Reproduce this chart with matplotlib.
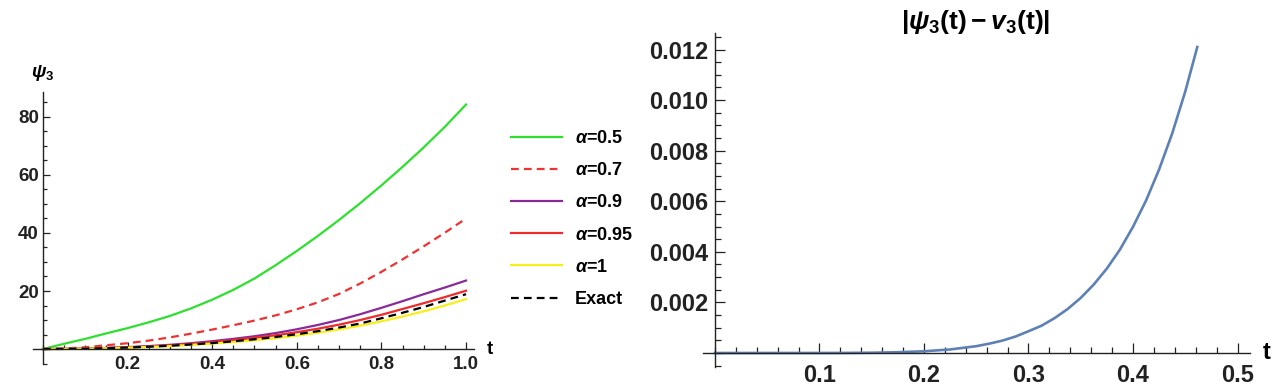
import numpy as np
import matplotlib
matplotlib.use("Agg")
import matplotlib.pyplot as plt
from matplotlib.ticker import MultipleLocator, FixedLocator

plt.rcParams['font.family'] = ['Liberation Sans', 'DejaVu Sans']
plt.rcParams['font.weight'] = 'bold'
plt.rcParams['mathtext.fontset'] = 'custom'
plt.rcParams['mathtext.rm'] = 'Liberation Sans:bold'
plt.rcParams['mathtext.it'] = 'Liberation Sans:bold:italic'
plt.rcParams['mathtext.bf'] = 'Liberation Sans:bold'

# left panel: psi_3 for several alpha values
t_left = [0.0, 0.05, 0.1, 0.15, 0.2, 0.25, 0.3, 0.35, 0.4, 0.45, 0.5,
          0.55, 0.6, 0.65, 0.7, 0.75, 0.8, 0.85, 0.9, 0.95, 1.0]
psi_a05 = [0.0, 1.8, 3.5, 5.4, 7.2, 9.2, 11.4, 14.0, 17.0, 20.4, 24.3,
           28.9, 33.8, 39.0, 44.5, 50.3, 56.4, 62.8, 69.5, 76.6, 84.3]
psi_a07 = [0.0, 0.2, 0.6, 1.3, 2.0, 2.9, 4.0, 5.3, 6.7, 8.2, 9.8,
           11.6, 13.7, 16.1, 19.0, 22.6, 26.6, 30.9, 35.4, 40.1, 45.0]
psi_a09 = [0.0, 0.05, 0.18, 0.38, 0.65, 1.0, 1.45, 2.0, 2.7, 3.5, 4.4,
           5.5, 6.8, 8.3, 10.0, 12.0, 14.2, 16.5, 18.9, 21.2, 23.6]
psi_a095 = [0.0, 0.04, 0.15, 0.33, 0.57, 0.88, 1.27, 1.75, 2.35, 3.05, 3.85,
            4.75, 5.8, 7.0, 8.4, 10.0, 11.8, 13.8, 15.8, 17.9, 20.1]
psi_a1 = [0.0, 0.03, 0.11, 0.25, 0.45, 0.7, 1.0, 1.4, 1.85, 2.4, 3.0,
          3.75, 4.6, 5.6, 6.75, 8.05, 9.55, 11.2, 13.0, 15.0, 17.2]
psi_exact = [0.0, 0.03, 0.12, 0.28, 0.5, 0.78, 1.12, 1.55, 2.05, 2.65, 3.35,
             4.15, 5.1, 6.15, 7.4, 8.8, 10.6, 12.5, 14.5, 16.7, 18.9]

labels = [r'$\alpha$=0.5', r'$\alpha$=0.7', r'$\alpha$=0.9', r'$\alpha$=0.95', r'$\alpha$=1', 'Exact']

# right panel: absolute error |psi_3 - v_3|
t_err = [0.0, 0.05, 0.1, 0.125, 0.15, 0.175, 0.2, 0.225, 0.25, 0.2625, 0.275,
         0.2875, 0.3, 0.3125, 0.325, 0.3375, 0.35, 0.3625, 0.375, 0.3875, 0.4,
         0.4125, 0.425, 0.4375, 0.45, 0.4615]
err = [0.0, 0.0, 0.000001, 0.000004, 0.000011, 0.00003, 0.000068, 0.00014,
       0.00027, 0.00037, 0.00049, 0.00065, 0.00086, 0.00108, 0.00138, 0.00174,
       0.00218, 0.00271, 0.00334, 0.00409, 0.00499, 0.00603, 0.00726, 0.00868,
       0.01034, 0.0121]

fig = plt.figure(figsize=(12.8, 3.85), dpi=100)

axis_col = '#222222'


def style_axes(ax):
    ax.spines['left'].set_position(('data', 0))
    ax.spines['bottom'].set_position(('data', 0))
    ax.spines['top'].set_visible(False)
    ax.spines['right'].set_visible(False)
    for s in ('left', 'bottom'):
        ax.spines[s].set_color(axis_col)
        ax.spines[s].set_linewidth(1.0)
    ax.tick_params(which='both', direction='in', colors=axis_col, width=0.9)


# ---- left
ax1 = fig.add_axes([0.0256, 0.0558, 0.3451, 0.7052])
ax1.plot(t_left, psi_a05, color='#2ee02e', lw=1.6)
ax1.plot(t_left, psi_a07, color='#ee3333', lw=1.6, ls=(0, (3.5, 2.3)))
ax1.plot(t_left, psi_a09, color='#8a2a9a', lw=1.6)
ax1.plot(t_left, psi_a095, color='#ee2a2a', lw=1.6)
ax1.plot(t_left, psi_a1, color='#f5ef1a', lw=1.6)
ax1.plot(t_left, psi_exact, color='black', lw=1.6, ls=(0, (3.5, 2.3)))
ax1.set_xlim(-0.024, 1.02)
ax1.set_ylim(-5, 88.6)
style_axes(ax1)
ax1.xaxis.set_major_locator(FixedLocator([0.2, 0.4, 0.6, 0.8, 1.0]))
ax1.xaxis.set_minor_locator(MultipleLocator(0.05))
ax1.yaxis.set_major_locator(FixedLocator([20, 40, 60, 80]))
ax1.yaxis.set_minor_locator(MultipleLocator(5))
ax1.set_xticklabels(['0.2', '0.4', '0.6', '0.8', '1.0'])
ax1.set_yticklabels(['20', '40', '60', '80'])
ax1.tick_params(which='major', length=5, labelsize=13.5)
ax1.tick_params(which='minor', length=3)
ax1.tick_params(axis='x', pad=5)
ax1.tick_params(axis='y', pad=3)
ax1.text(1.057, 0, 't', fontsize=13.5, ha='center', va='center', clip_on=False)
ax1.text(0, 95, r'$\psi_3$', fontsize=13.5, ha='center', va='center', clip_on=False)

leg = ax1.legend(labels, loc='upper left', bbox_to_anchor=(511 / 1280, 1 - 130 / 385),
                 bbox_transform=fig.transFigure, frameon=False, fontsize=13,
                 handlelength=2.8, handletextpad=0.75, labelspacing=0.84,
                 borderpad=0, borderaxespad=0)

# ---- right
ax2 = fig.add_axes([0.5496, 0.047, 0.427, 0.867])
ax2.plot(t_err, err, color='#5e81b5', lw=1.9)
ax2.set_xlim(-0.011, 0.512)
ax2.set_ylim(-0.00055, 0.01265)
style_axes(ax2)
ax2.xaxis.set_major_locator(FixedLocator([0.1, 0.2, 0.3, 0.4, 0.5]))
ax2.xaxis.set_minor_locator(MultipleLocator(0.02))
ax2.yaxis.set_major_locator(FixedLocator([0.002, 0.004, 0.006, 0.008, 0.010, 0.012]))
ax2.yaxis.set_minor_locator(MultipleLocator(0.0005))
ax2.set_xticklabels(['0.1', '0.2', '0.3', '0.4', '0.5'])
ax2.set_yticklabels(['0.002', '0.004', '0.006', '0.008', '0.010', '0.012'])
ax2.tick_params(which='major', length=7, labelsize=17)
ax2.tick_params(which='minor', length=4)
ax2.tick_params(axis='x', pad=8)
ax2.tick_params(axis='y', pad=5)
ax2.text(0.528, 0, 't', fontsize=17, ha='center', va='center', clip_on=False)

fig.text(976 / 1280, 1 - 22 / 385, r'$|\psi_3(\mathrm{t})-v_3(\mathrm{t})|$',
         fontsize=19, ha='center', va='center')

fig.savefig('out.png', dpi=100)
